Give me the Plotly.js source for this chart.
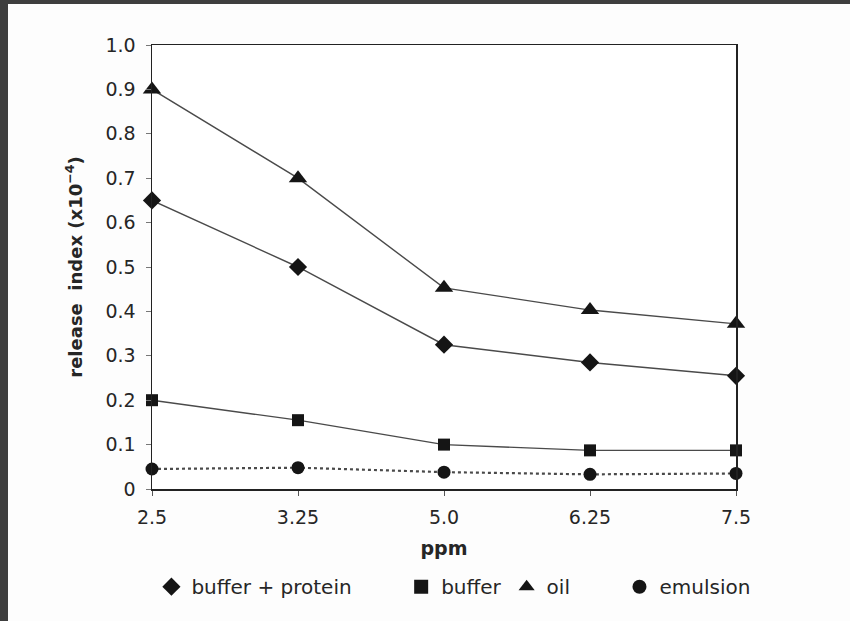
<!DOCTYPE html>
<html>
<head>
<meta charset="utf-8">
<script src="https://cdn.plot.ly/plotly-3.0.1.min.js"></script>
<style>
html,body{margin:0;padding:0;background:#3e3e3e;width:850px;height:621px;overflow:hidden;}
#chart{position:absolute;left:8px;top:4px;width:842px;height:617px;background:#fdfdfd;}
</style>
</head>
<body>
<div id="chart"></div>
<script>
const categories = ["2.5", "3.25", "5.0", "6.25", "7.5"];
const bufferProtein = [0.65, 0.50, 0.325, 0.285, 0.255];
const buffer = [0.20, 0.155, 0.10, 0.087, 0.087];
const oil = [0.90, 0.70, 0.453, 0.403, 0.372];
const emulsion = [0.045, 0.048, 0.038, 0.033, 0.035];
const seriesNames = ["buffer + protein", "buffer", "oil", "emulsion"];
const yTicks = [0, 0.1, 0.2, 0.3, 0.4, 0.5, 0.6, 0.7, 0.8, 0.9, 1.0];
const yTickText = ["0", "0.1", "0.2", "0.3", "0.4", "0.5", "0.6", "0.7", "0.8", "0.9", "1.0"];

const lineCol = "#4a4a4a";
const markCol = "#151515";
const NB = "\u00a0";
function series(name, y, symbol, size, dash) {
  return {
    x: categories, y: y, name: name, type: "scatter", mode: "lines+markers",
    line: {color: lineCol, width: dash ? 2.2 : 1.4, dash: dash || "solid"},
    marker: {symbol: symbol, size: size, color: markCol},
    cliponaxis: false, showlegend: false
  };
}
function legendItem(name, pad, symbol, size) {
  return {
    x: [null], y: [null], name: name + NB.repeat(pad), type: "scatter", mode: "markers",
    marker: {symbol: symbol, size: size, color: markCol}, showlegend: true
  };
}
const data = [
  series(seriesNames[0], bufferProtein, "diamond", 14),
  series(seriesNames[1], buffer, "square", 12),
  series(seriesNames[2], oil, "triangle-up", 16),
  series(seriesNames[3], emulsion, "circle", 13, "dot"),
  legendItem(seriesNames[0], 7, "diamond", 14),
  legendItem(seriesNames[1], 0, "square", 14),
  legendItem(seriesNames[2], 7, "triangle-up", 14),
  legendItem(seriesNames[3], 0, "circle", 14)
];
const fam = "DejaVu Sans, Verdana, sans-serif";
const font = {family: fam, size: 19, color: "#262626"};
const layout = {
  width: 842, height: 617,
  paper_bgcolor: "#fdfdfd", plot_bgcolor: "#ffffff",
  margin: {l: 144, r: 114, t: 41, b: 132},
  font: font,
  showlegend: true,
  legend: {orientation: "h", x: -0.001, xanchor: "left", y: -0.22, yanchor: "middle",
           font: {family: fam, size: 20, color: "#262626"}, itemwidth: 30,
           tracegroupgap: 0, bgcolor: "rgba(0,0,0,0)"},
  xaxis: {
    type: "category", range: [0, 4],
    showline: true, linecolor: "#222", linewidth: 1.5, mirror: true,
    ticks: "outside", ticklen: 5, tickcolor: "#555",
    showgrid: false, zeroline: false,
    tickfont: font, ticklabelstandoff: 6,
    title: {text: "<b>ppm</b>", font: {family: fam, size: 19, color: "#262626"}, standoff: 14}
  },
  yaxis: {
    range: [0, 1.0], tickvals: yTicks, ticktext: yTickText,
    showline: true, linecolor: "#222", linewidth: 1.5, mirror: true,
    ticks: "outside", ticklen: 5, tickcolor: "#777",
    showgrid: false, zeroline: false,
    tickfont: font, ticklabelstandoff: 6,
    title: {text: "<b>release  index (x10<sup>\u22124</sup>)</b>", font: {family: fam, size: 18, color: "#262626"}, standoff: 18}
  }
};
Plotly.newPlot("chart", data, layout, {displayModeBar: false, staticPlot: true});
</script>
</body>
</html>
